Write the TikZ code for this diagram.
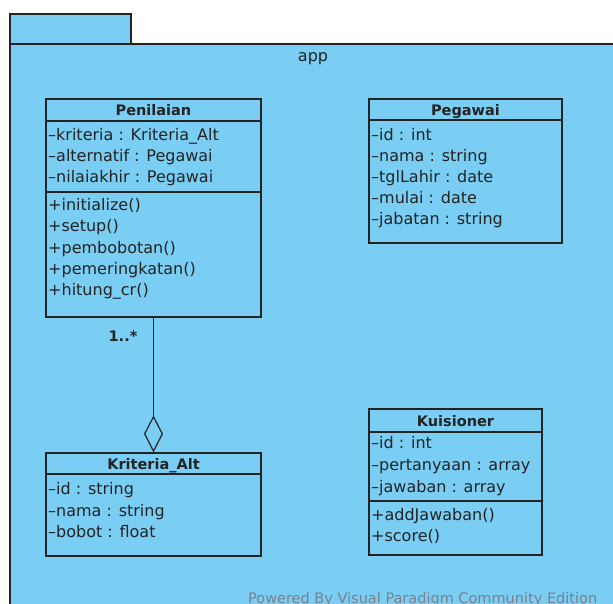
\documentclass[tikz,border=0pt]{standalone}
\usepackage{fontspec}
\setmainfont{DejaVu Sans}
\usetikzlibrary{arrows.meta}
\definecolor{pkg}{RGB}{122,206,244}
\definecolor{ln}{RGB}{35,35,35}
\definecolor{wm}{RGB}{125,128,138}
\begin{document}
\begin{tikzpicture}[x=1pt,y=-1pt,
  pkgshape/.style={draw=ln,fill=pkg,line width=1.2pt},
  classbox/.style={draw=ln,line width=1.2pt,rectangle,inner sep=0pt},
  sepline/.style={draw=ln,line width=1.2pt},
  title/.style={font=\fontsize{14.5}{17}\selectfont\bfseries,text=ln,inner sep=0pt,anchor=base},
  attr/.style={font=\fontsize{16}{19}\selectfont,text=ln,inner sep=0pt,anchor=base west},
  conn/.style={draw=ln,line width=1.2pt}
]
\useasboundingbox (0,0) rectangle (613,603);
\clip (0,0) rectangle (613,603);
\fill[white] (0,0) rectangle (613,603);
% package
\draw[pkgshape] (10,14) rectangle (131,44);
\draw[pkgshape] (10,44) rectangle (660,660);
\node[font=\fontsize{16}{19}\selectfont,text=ln,inner sep=0pt,anchor=base] (app) at (313,61) {app};

% Penilaian
\node[classbox,minimum width=215pt,minimum height=218pt] (pen) at (153.5,208) {};
\node[title] (penT) at (153.5,115.5) {Penilaian};
\draw[sepline] (pen.west |- 0,121) -- (pen.east |- 0,121);
\draw[sepline] (pen.west |- 0,192) -- (pen.east |- 0,192);
\node[attr] (pen1) at (48,140) {–kriteria : Kriteria\_Alt};
\node[attr] (pen2) at (48,161) {–alternatif : Pegawai};
\node[attr] (pen3) at (48,182) {–nilaiakhir : Pegawai};
\node[attr] (pen4) at (48,210) {+initialize()};
\node[attr] (pen5) at (48,231) {+setup()};
\node[attr] (pen6) at (48,253) {+pembobotan()};
\node[attr] (pen7) at (48,274) {+pemeringkatan()};
\node[attr] (pen8) at (48,295) {+hitung\_cr()};

% Pegawai
\node[classbox,minimum width=193pt,minimum height=144pt] (peg) at (465.5,171) {};
\node[title] (pegT) at (465.5,115.5) {Pegawai};
\draw[sepline] (peg.west |- 0,120) -- (peg.east |- 0,120);
\node[attr] (peg1) at (371,140) {–id : int};
\node[attr] (peg2) at (371,161) {–nama : string};
\node[attr] (peg3) at (371,182) {–tglLahir : date};
\node[attr] (peg4) at (371,203) {–mulai : date};
\node[attr] (peg5) at (371,224) {–jabatan : string};

% Kriteria_Alt
\node[classbox,minimum width=215pt,minimum height=103pt] (krit) at (153.5,504.5) {};
\node[title] (kritT) at (153.5,469) {Kriteria\_Alt};
\draw[sepline] (krit.west |- 0,474) -- (krit.east |- 0,474);
\node[attr] (krit1) at (48,494) {–id : string};
\node[attr] (krit2) at (48,516) {–nama : string};
\node[attr] (krit3) at (48,537) {–bobot : float};

% Kuisioner
\node[classbox,minimum width=173pt,minimum height=146pt] (kui) at (455.5,482) {};
\node[title] (kuiT) at (455.5,426) {Kuisioner};
\draw[sepline] (kui.west |- 0,432) -- (kui.east |- 0,432);
\draw[sepline] (kui.west |- 0,501) -- (kui.east |- 0,501);
\node[attr] (kui1) at (371,448) {–id : int};
\node[attr] (kui2) at (371,470) {–pertanyaan : array};
\node[attr] (kui3) at (371,492) {–jawaban : array};
\node[attr] (kui4) at (371,520) {+addJawaban()};
\node[attr] (kui5) at (371,541) {+score()};

% aggregation
\draw[conn,-{Diamond[open,length=37pt,width=19pt]}] (pen.south) -- (krit.north);
\node[font=\fontsize{14.5}{17}\selectfont\bfseries,text=ln,inner sep=0pt] (mult) at (123,336) {1..*};

% watermark
\node[font=\fontsize{14.5}{17}\selectfont,text=wm,inner sep=0pt,anchor=base west] (wmark) at (248,603) {Powered By Visual Paradigm Community Edition};
\end{tikzpicture}
\end{document}
